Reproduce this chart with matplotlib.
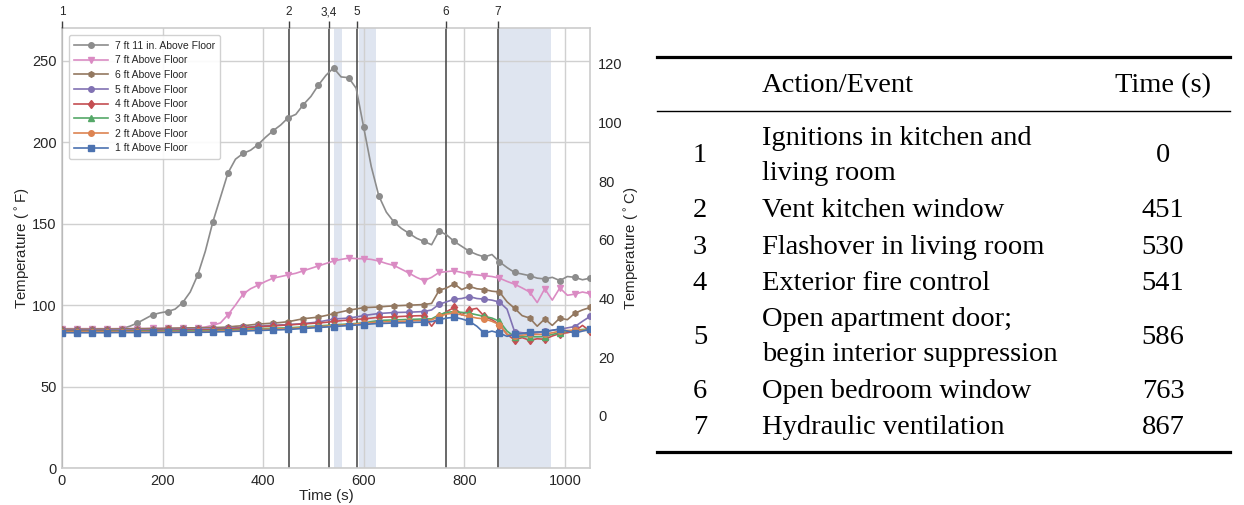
import numpy as np
import matplotlib
matplotlib.use("Agg")
import matplotlib.pyplot as plt
from matplotlib.lines import Line2D

plt.rcParams['font.family'] = ['Liberation Sans', 'DejaVu Sans']
plt.rcParams['text.color'] = '#262626'
plt.rcParams['axes.labelcolor'] = '#262626'
plt.rcParams['xtick.color'] = '#262626'
plt.rcParams['ytick.color'] = '#262626'

# time grid of the readings (s)
time = np.arange(0, 1051, 15)

# temperatures in deg F
t_7ft11 = [85.2, 85.1, 85.2, 85.0, 85.1, 85.0, 85.1, 85.2, 85.6, 87.0, 89.0, 91.5, 94.0, 95.2, 96.0,
           97.5, 101.5, 108.0, 118.5, 133.0, 151.0, 166.0, 181.0, 189.5, 193.0, 195.0, 198.5, 203.0,
           207.0, 210.5, 215.0, 217.0, 223.0, 228.0, 235.0, 241.0, 245.5, 240.0, 239.5, 233.0, 209.0,
           185.0, 167.0, 157.0, 151.0, 147.0, 144.0, 141.0, 139.0, 137.0, 145.5, 143.0, 139.0, 136.0,
           133.0, 131.0, 129.5, 131.0, 126.5, 123.0, 120.0, 119.0, 118.0, 116.5, 116.0, 117.0, 115.0,
           117.5, 117.0, 115.5, 116.5]
t_7ft = [85.5, 85.5, 85.5, 85.5, 85.5, 85.5, 85.5, 85.5, 85.6, 85.6, 85.6, 85.6, 85.7, 85.7, 85.8,
         85.8, 85.9, 86.0, 86.0, 86.5, 87.6, 89.0, 94.0, 100.0, 106.7, 110.0, 112.2, 114.5, 116.5,
         117.5, 118.5, 119.5, 121.0, 122.5, 124.0, 125.5, 127.0, 128.0, 128.8, 128.5, 128.4, 128.0,
         127.0, 125.5, 124.3, 122.0, 119.6, 117.0, 115.0, 117.0, 120.0, 120.5, 121.0, 120.0, 119.0,
         118.5, 118.0, 117.5, 116.5, 114.5, 112.8, 110.5, 108.0, 101.5, 110.0, 103.0, 110.5, 106.0,
         106.7, 108.0, 107.0]
t_6ft = [85.2, 85.2, 85.2, 85.2, 85.2, 85.3, 85.3, 85.3, 85.4, 85.4, 85.5, 85.5, 85.6, 85.6, 85.7,
         85.8, 85.9, 86.0, 86.0, 86.1, 86.2, 86.3, 86.5, 87.0, 87.3, 87.8, 88.3, 88.6, 88.9, 89.3,
         89.8, 90.7, 91.6, 92.1, 92.6, 93.6, 94.7, 95.8, 96.8, 97.6, 98.4, 98.6, 98.8, 99.2, 99.5,
         99.7, 99.9, 100.1, 100.3, 101.0, 109.0, 110.5, 113.0, 109.5, 111.5, 110.0, 109.5, 108.5,
         108.0, 102.0, 98.0, 93.5, 92.0, 87.0, 91.5, 87.5, 92.0, 91.0, 95.0, 97.0, 98.5]
t_5ft = [84.5, 84.5, 84.5, 84.5, 84.5, 84.5, 84.6, 84.6, 84.6, 84.7, 84.7, 84.8, 84.8, 84.9, 84.9,
         85.0, 85.0, 85.1, 85.1, 85.2, 85.3, 85.5, 85.8, 86.0, 86.3, 86.6, 87.0, 87.3, 87.6, 87.8,
         88.0, 88.3, 88.6, 89.1, 89.6, 90.5, 91.4, 91.7, 92.0, 92.7, 93.5, 94.2, 94.8, 95.1, 95.4,
         95.5, 95.6, 95.8, 96.0, 97.0, 100.5, 102.0, 103.6, 104.0, 105.2, 104.0, 103.6, 103.0,
         101.8, 97.5, 83.7, 83.0, 82.5, 83.0, 84.0, 84.5, 85.2, 86.0, 86.8, 90.0, 93.0]
t_4ft = [84.0, 84.0, 84.0, 84.0, 84.0, 84.0, 84.1, 84.1, 84.1, 84.2, 84.2, 84.3, 84.3, 84.4, 84.4,
         84.5, 84.5, 84.6, 84.6, 84.7, 84.8, 85.0, 85.3, 85.6, 86.0, 86.3, 86.6, 86.9, 87.2, 87.5,
         87.8, 88.1, 88.4, 88.7, 89.0, 89.4, 89.9, 90.4, 90.8, 91.2, 91.5, 92.0, 92.5, 92.6, 92.8,
         93.0, 93.2, 93.4, 93.5, 87.0, 93.0, 96.0, 98.5, 94.0, 97.0, 98.0, 93.0, 91.0, 88.0, 82.0,
         78.6, 80.0, 78.4, 79.3, 79.0, 81.0, 82.5, 83.0, 84.0, 87.5, 84.0]
t_3ft = [83.8, 83.8, 83.8, 83.8, 83.8, 83.8, 83.9, 83.9, 83.9, 83.9, 84.0, 84.0, 84.0, 84.0, 84.1,
         84.1, 84.1, 84.2, 84.2, 84.2, 84.3, 84.5, 84.7, 84.9, 85.1, 85.3, 85.4, 85.6, 85.8, 85.9,
         86.0, 86.3, 86.6, 86.9, 87.2, 87.5, 87.8, 88.1, 88.4, 88.7, 89.0, 89.8, 90.5, 90.7, 90.9,
         91.0, 91.2, 91.3, 91.5, 91.5, 94.0, 95.5, 96.0, 95.5, 95.0, 94.0, 93.0, 92.0, 90.0, 84.0,
         80.6, 80.5, 80.6, 80.5, 80.6, 82.0, 83.0, 84.0, 84.5, 85.0, 85.2]
t_2ft = [83.5, 83.5, 83.5, 83.5, 83.5, 83.5, 83.5, 83.5, 83.6, 83.6, 83.6, 83.6, 83.6, 83.7, 83.7,
         83.7, 83.7, 83.7, 83.8, 83.8, 83.8, 84.0, 84.2, 84.4, 84.5, 84.7, 84.9, 85.1, 85.2, 85.4,
         85.5, 85.8, 86.1, 86.4, 86.7, 87.0, 87.3, 87.6, 88.0, 88.4, 88.8, 89.2, 89.5, 89.7, 89.8,
         90.0, 90.2, 90.4, 90.5, 90.9, 93.0, 94.5, 95.0, 94.0, 93.0, 92.0, 91.5, 90.0, 88.0, 82.0,
         81.0, 81.5, 82.0, 82.0, 82.0, 83.0, 84.0, 84.4, 84.5, 84.5, 84.5]
t_1ft = [83.0, 83.0, 83.0, 83.0, 83.0, 83.0, 83.0, 83.1, 83.1, 83.1, 83.1, 83.1, 83.2, 83.2, 83.2,
         83.2, 83.3, 83.3, 83.3, 83.3, 83.4, 83.6, 83.7, 83.9, 84.0, 84.2, 84.4, 84.5, 84.7, 84.8,
         85.0, 85.3, 85.6, 85.9, 86.2, 86.5, 86.8, 87.1, 87.4, 87.7, 88.0, 88.4, 88.7, 88.8, 89.0,
         89.1, 89.2, 89.4, 89.5, 89.8, 91.0, 92.0, 92.5, 91.5, 90.0, 87.0, 82.7, 84.0, 82.7, 80.8,
         82.0, 82.5, 83.3, 83.5, 83.5, 84.5, 85.3, 84.0, 82.8, 84.0, 85.0]

series = [t_7ft11, t_7ft, t_6ft, t_5ft, t_4ft, t_3ft, t_2ft, t_1ft]
labels = ['7 ft 11 in. Above Floor', '7 ft Above Floor', '6 ft Above Floor', '5 ft Above Floor',
          '4 ft Above Floor', '3 ft Above Floor', '2 ft Above Floor', '1 ft Above Floor']
colors = ['#8c8c8c', '#da8bc3', '#937860', '#8172b3', '#c44e52', '#55a868', '#dd8452', '#4c72b0']
markers = ['o', 'v', 'h', 'o', 'd', '^', 'o', 's']
msizes = [4, 4.5, 4, 4, 4.5, 4, 4, 5]

# events
event_times = [0, 451, 530, 586, 763, 867]
event_labels = ['1', '2', '3,4', '5', '6', '7']
# suppression / ventilation periods (start, end) in s
spans = [(541, 557), (590, 624), (869, 972)]

# table of actions
tab_num = ['1', '2', '3', '4', '5', '6', '7']
tab_event = ['Ignitions in kitchen and\nliving room', 'Vent kitchen window', 'Flashover in living room',
             'Exterior fire control', 'Open apartment door;\nbegin interior suppression',
             'Open bedroom window', 'Hydraulic ventilation']
tab_time = ['0', '451', '530', '541', '586', '763', '867']

W, H = 1244, 505
fig = plt.figure(figsize=(W / 100, H / 100), dpi=100)
ax = fig.add_axes([62 / W, 37 / H, 528 / W, 440 / H])

for s0, s1 in spans:
    ax.axvspan(s0, s1, color='#dfe5f0', lw=0, zorder=0)
for et in event_times:
    ax.axvline(et, color='#404040', lw=1.1, zorder=1)

for y, lab, c, m, ms in zip(series, labels, colors, markers, msizes):
    ax.plot(time, y, color=c, marker=m, markersize=ms, markevery=2, lw=1.2, label=lab, zorder=3)

ax.set_xlim(0, 1050)
ax.set_ylim(0, 270)
ax.set_xticks([0, 200, 400, 600, 800, 1000])
ax.set_yticks([0, 50, 100, 150, 200, 250])
ax.grid(True, color='#d0d0d0', lw=1, zorder=0)
ax.set_axisbelow(True)
ax.tick_params(length=0, labelsize=10.5, pad=4)
for sp in ax.spines.values():
    sp.set_color('#cccccc')
    sp.set_linewidth(1.2)
ax.set_xlabel('Time (s)', fontsize=10.8, labelpad=1)
ax.set_ylabel('Temperature ($^\\circ$F)', fontsize=10.8, labelpad=0)

leg = ax.legend(loc='upper left', fontsize=7.5, labelspacing=0.45, handlelength=3.3,
                handletextpad=0.65, borderpad=0.5, fancybox=True, framealpha=0.9,
                edgecolor='#cccccc', bbox_to_anchor=(0.003, 0.995))

# Celsius axis
ax2 = ax.twinx()
ax2.set_ylim((0 - 32) / 1.8, (270 - 32) / 1.8)
ax2.set_yticks([0, 20, 40, 60, 80, 100, 120])
ax2.tick_params(length=0, labelsize=10.5, pad=6)
ax2.grid(False)
for sp in ax2.spines.values():
    sp.set_visible(False)
ax2.set_ylabel('Temperature ($^\\circ$C)', fontsize=10.8, labelpad=0)

# event numbers on top
ax3 = ax.twiny()
ax3.set_xlim(0, 1050)
ax3.set_xticks(event_times)
ax3.set_xticklabels(event_labels)
ax3.tick_params(axis='x', direction='out', length=5, width=1, color='#404040', labelsize=8.5, pad=2)
ax3.grid(False)
for sp in ax3.spines.values():
    sp.set_visible(False)

# table
serif = ['Liberation Serif', 'DejaVu Serif']
fs = 20.5


def fx(px):
    return px / W


def fy(py):
    return 1 - py / H


fig.add_artist(Line2D([fx(657), fx(1230)], [fy(57), fy(57)], color='black', lw=2.3))
fig.add_artist(Line2D([fx(657), fx(1230)], [fy(111), fy(111)], color='black', lw=1.0))
fig.add_artist(Line2D([fx(657), fx(1230)], [fy(452), fy(452)], color='black', lw=2.3))

fig.text(fx(762), fy(86), 'Action/Event', family=serif, fontsize=fs, va='center', ha='left',
         color='black')
fig.text(fx(1163), fy(86), 'Time (s)', family=serif, fontsize=fs, va='center', ha='center',
         color='black')

row_y = [156, 211, 247, 283, 337, 391, 427]
for num, ev, tm, ry in zip(tab_num, tab_event, tab_time, row_y):
    fig.text(fx(700), fy(ry), num, family=serif, fontsize=fs, va='center', ha='center', color='black')
    fig.text(fx(762), fy(ry), ev, family=serif, fontsize=fs, va='center', ha='left',
             color='black', linespacing=1.5)
    fig.text(fx(1163), fy(ry), tm, family=serif, fontsize=fs, va='center', ha='center', color='black')

fig.savefig('out.png', dpi=100)
